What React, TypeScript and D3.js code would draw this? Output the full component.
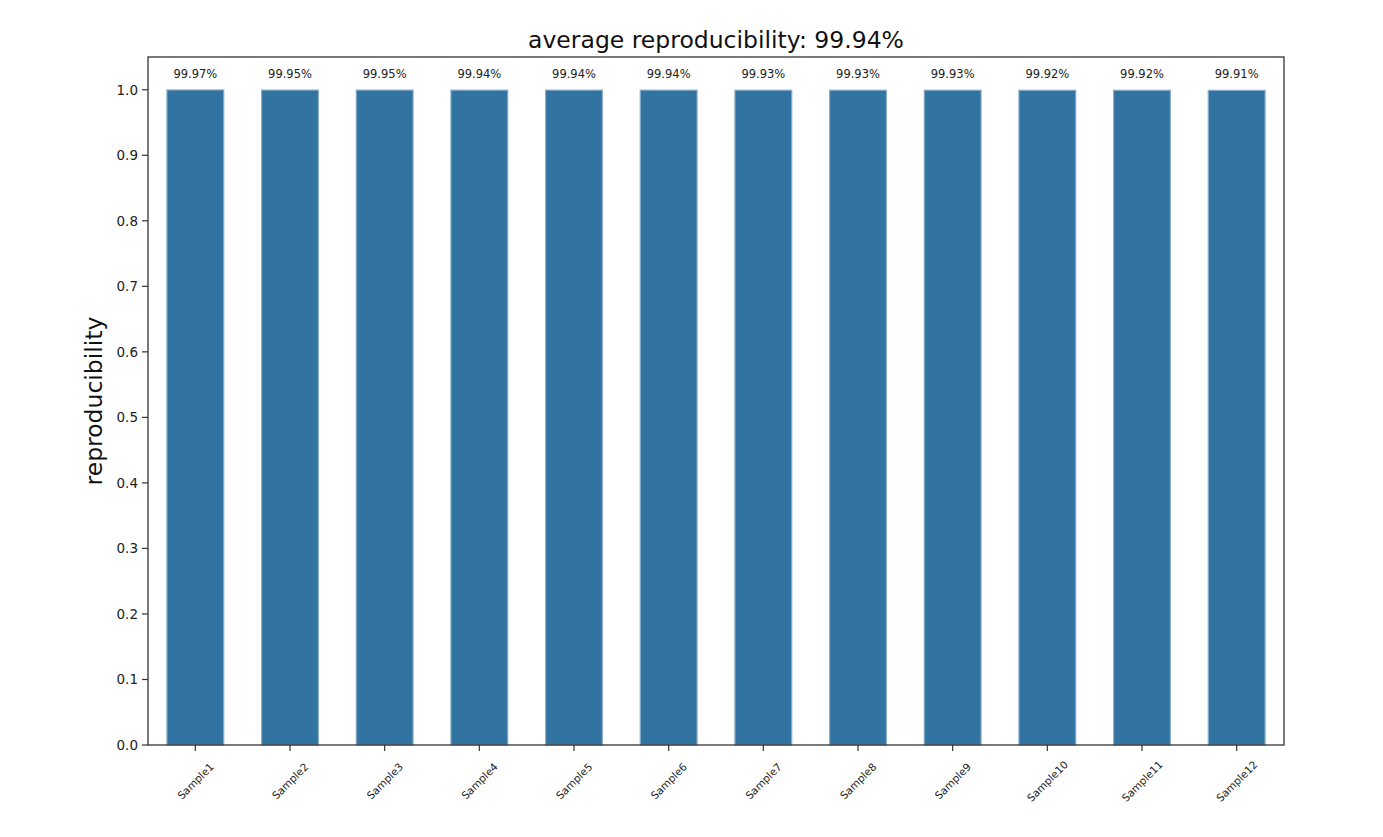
import React from "react";
import * as d3 from "d3";

const samples = ["Sample1","Sample2","Sample3","Sample4","Sample5","Sample6","Sample7","Sample8","Sample9","Sample10","Sample11","Sample12"];
const reproducibility = [0.9997,0.9995,0.9995,0.9994,0.9994,0.9994,0.9993,0.9993,0.9993,0.9992,0.9992,0.9991];
const valueLabels = ["99.97%","99.95%","99.95%","99.94%","99.94%","99.94%","99.93%","99.93%","99.93%","99.92%","99.92%","99.91%"];
const yTicks = [0,0.1,0.2,0.3,0.4,0.5,0.6,0.7,0.8,0.9,1.0];
const titleText = "average reproducibility: 99.94%";
const yLabel = "reproducibility";

export default function App() {
  const W = 1383, H = 837;
  const L = 148, R = 1284, T = 57, B = 745;
  const x = d3.scaleLinear().domain([-0.5, samples.length - 0.5]).range([L, R]);
  const y = d3.scaleLinear().domain([0, 1.05]).range([B, T]);
  const bw = x(0.3) - x(-0.3);
  const font = "DejaVu Sans, sans-serif";
  return (
    <svg width={W} height={H} style={{ position: "absolute", left: 0, top: 0, background: "#fff" }} fontFamily={font}>
      {samples.map((s, i) => (
        <rect key={s} x={x(i) - bw / 2} y={y(reproducibility[i])} width={bw} height={B - y(reproducibility[i])}
          fill="#3274a1" stroke="#86acc9" strokeWidth={1.2} />
      ))}
      {samples.map((s, i) => (
        <text key={"v" + s} x={x(i)} y={78} fontSize={11.5} textAnchor="middle" fill="#222">{valueLabels[i]}</text>
      ))}
      {yTicks.map((t) => (
        <g key={t}>
          <line x1={L - 6} x2={L} y1={y(t)} y2={y(t)} stroke="#333" strokeWidth={1.2} />
          <text x={L - 10} y={y(t)} fontSize={13.5} textAnchor="end" dominantBaseline="central" fill="#222">{t.toFixed(1)}</text>
        </g>
      ))}
      {samples.map((s, i) => (
        <g key={"x" + s}>
          <line x1={x(i)} x2={x(i)} y1={B} y2={B + 6} stroke="#333" strokeWidth={1.2} />
          <text transform={`translate(${x(i)},${781}) rotate(-45)`} fontSize={10.5} textAnchor="middle" dominantBaseline="central" fill="#222">{s}</text>
        </g>
      ))}
      <rect x={L} y={T} width={R - L} height={B - T} fill="none" stroke="#333" strokeWidth={1.3} />
      <text x={(L + R) / 2} y={48} fontSize={23.5} textAnchor="middle" fill="#111">{titleText}</text>
      <text transform={`translate(102,${(T + B) / 2}) rotate(-90)`} fontSize={23.5} textAnchor="middle" fill="#111">{yLabel}</text>
    </svg>
  );
}
